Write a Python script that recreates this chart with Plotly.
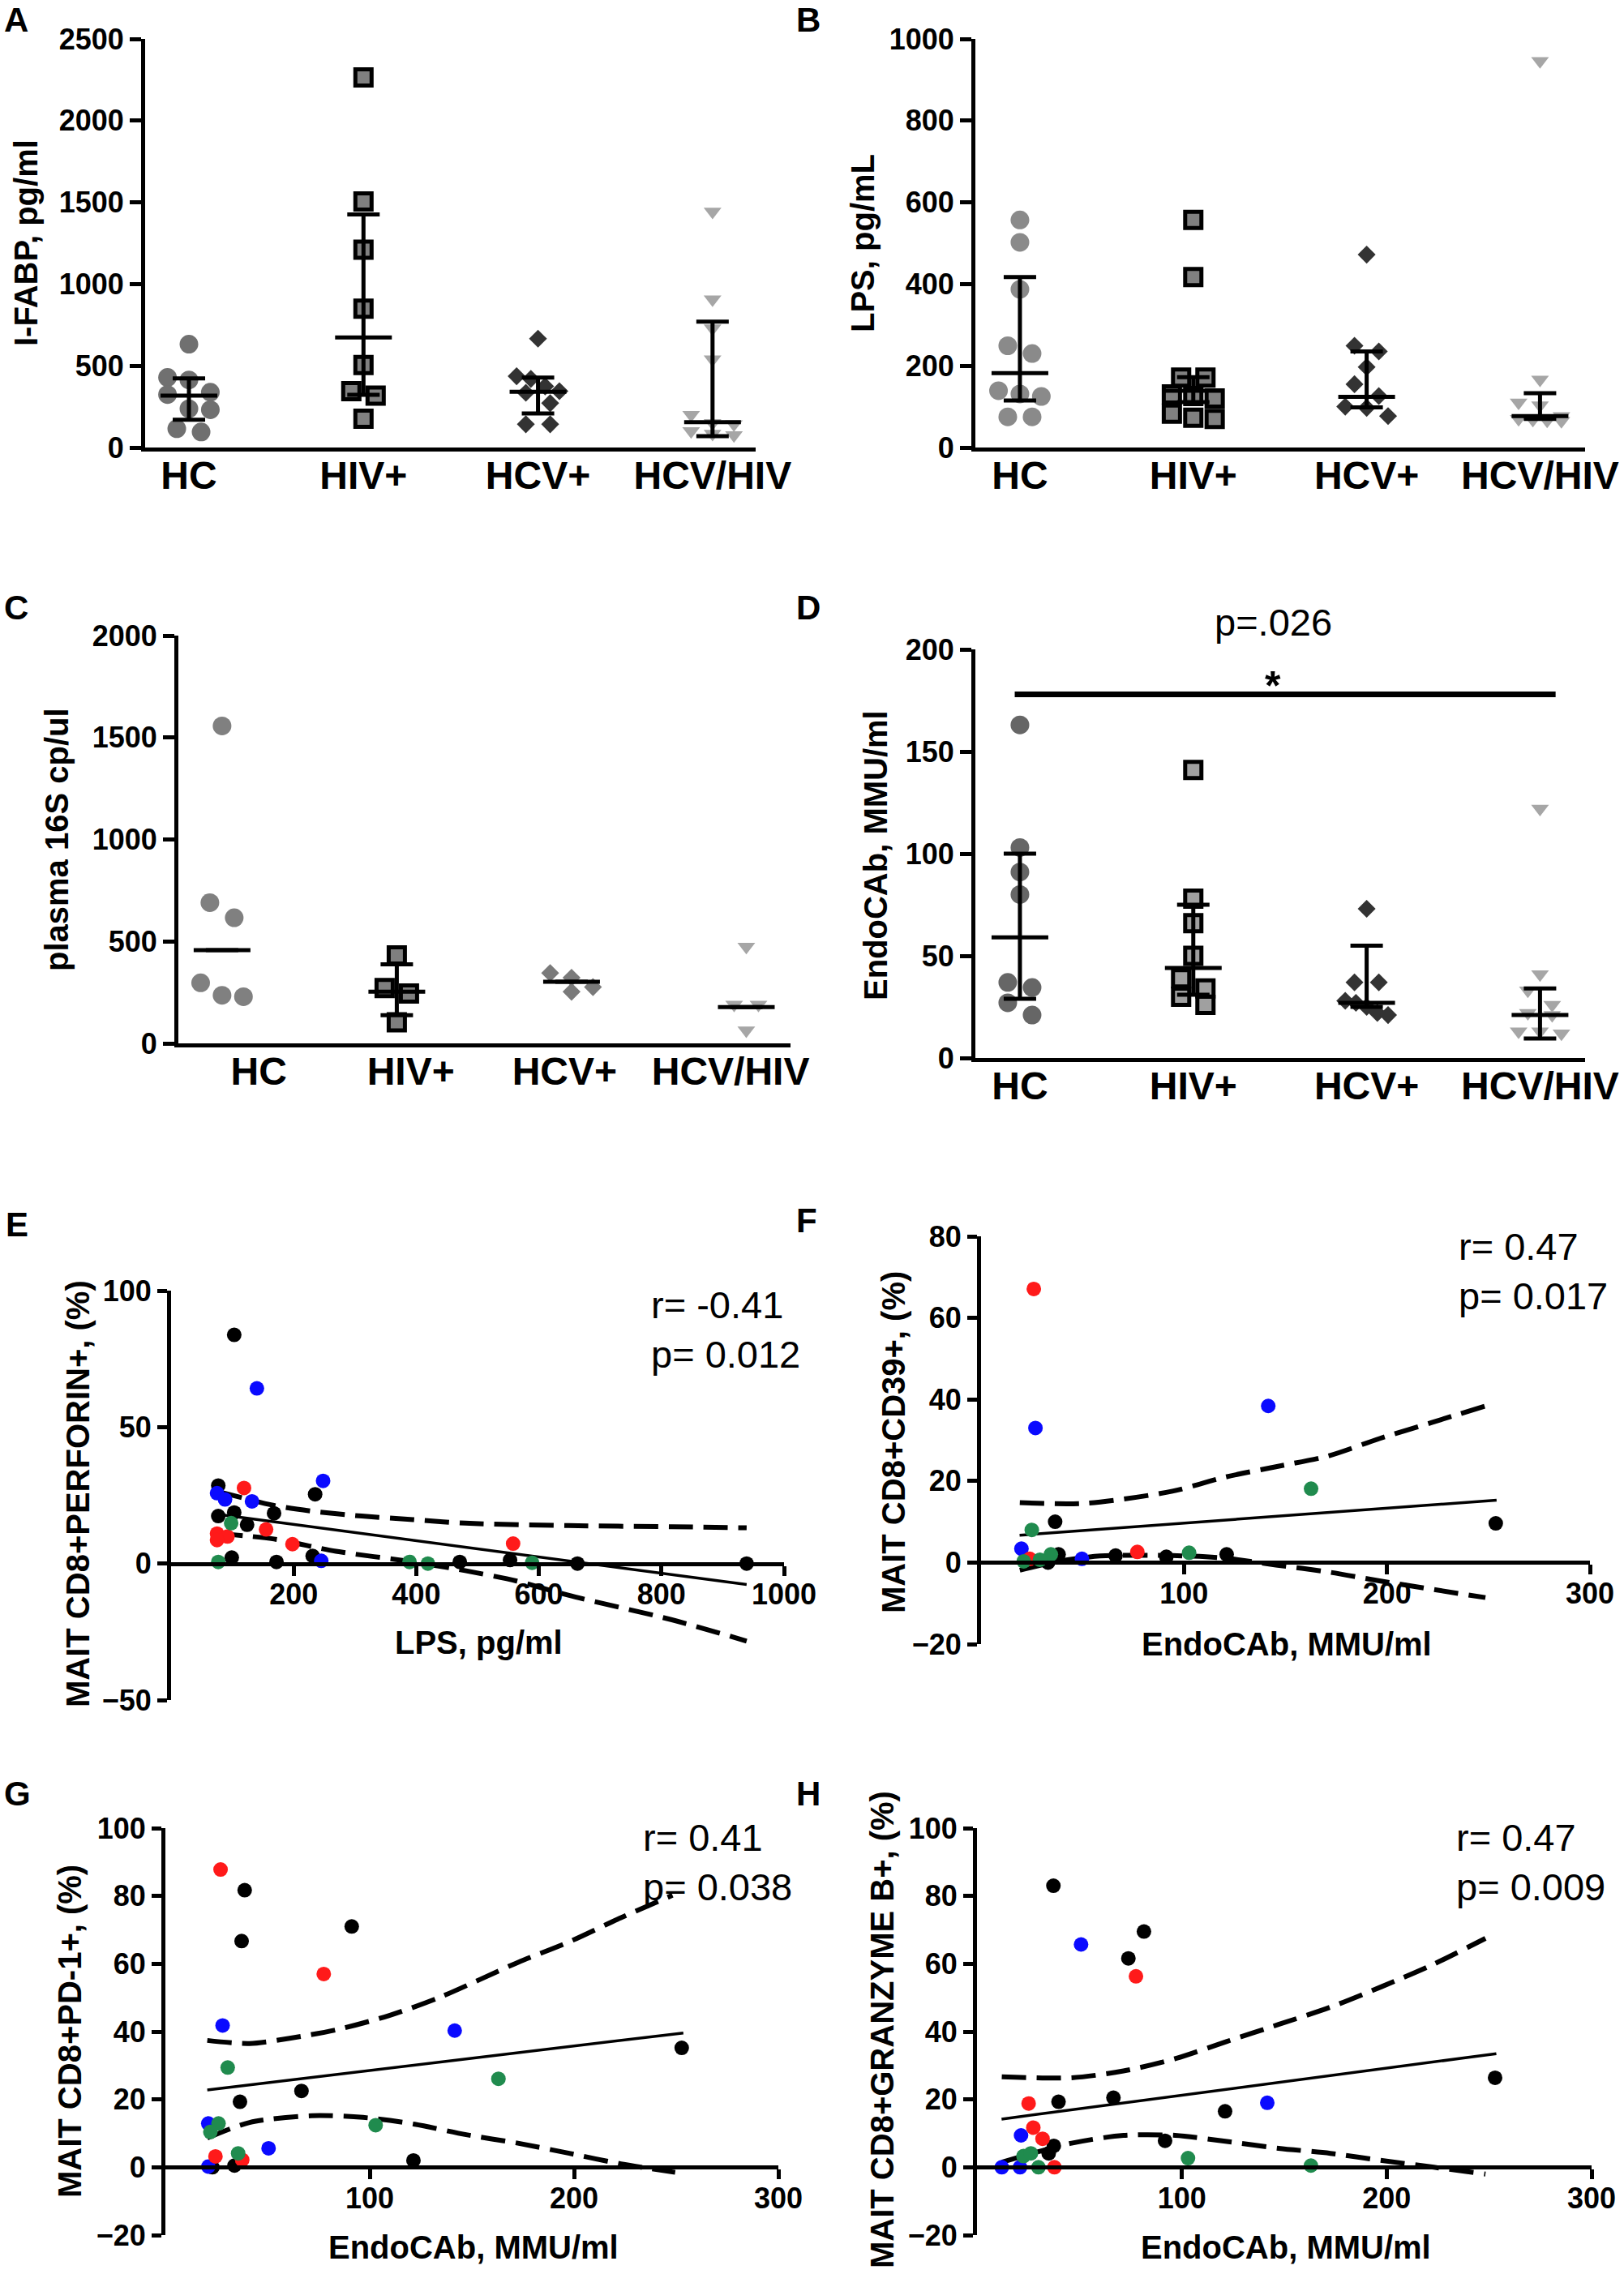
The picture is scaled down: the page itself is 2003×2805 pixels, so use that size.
import numpy as np
import plotly.graph_objects as go

W, H = 2003, 2805

groups = ["HC", "HIV+", "HCV+", "HCV/HIV"]

# ---- panel A: I-FABP, pg/ml
a_hc = [632, 429, 413, 338, 324, 237, 231, 115, 95]
a_hiv = [2265, 1505, 1210, 850, 505, 345, 318, 176]
a_hcv = [666, 436, 420, 374, 345, 335, 271, 142, 142]
a_coi = [1443, 906, 729, 539, 200, 150, 142, 101, 84, 76]
a_med = [318, 673, 341, 155]
a_lo = [170, 322, 208, 69]
a_hi = [423, 1426, 428, 770]

# ---- panel B: LPS, pg/mL
b_hc = [557, 502, 387, 249, 230, 139, 131, 125, 75, 75]
b_hiv = [557, 417, 171, 171, 130, 126, 120, 83, 73, 70]
b_hcv = [472, 249, 235, 197, 155, 126, 100, 97, 77]
b_coi = [946, 166, 110, 103, 77, 70, 68, 66, 65]
b_med = [182, 139, 124, 77]
b_lo = [115, 111, 98, 70]
b_hi = [417, 172, 235, 133]

# ---- panel C: plasma 16S cp/ul
c_hc = [1557, 690, 616, 297, 236, 229]
c_hiv = [431, 271, 245, 103]
c_hcv = [345, 322, 276, 253]
c_coi = [474, 190, 190, 64]
c_med = [457, 253, 302, 178]
c_lo = [457, 138, 302, 178]
c_hi = [457, 388, 302, 178]

# ---- panel D: EndoCAb, MMU/ml
d_hc = [163, 103, 91, 80, 37, 34.5, 27, 21]
d_hiv = [141, 78, 66, 50, 39, 34, 30, 26]
d_hcv = [73, 37, 37, 28, 27, 25, 22, 21]
d_coi = [122, 41, 33, 26, 22, 21, 13, 13, 12]
d_med = [59, 44, 27, 21]
d_lo = [29, 31, 25, 9.5]
d_hi = [100, 75, 55, 34]

# ---- panel E: perforin vs LPS
e_black_x = [103, 77, 235, 77, 103, 168, 124, 99, 172, 231, 471, 553, 663, 939]
e_black_y = [83.8, 28.6, 25.4, 17.4, 18.7, 18.4, 14.2, 2.2, 0.6, 2.8, 0.6, 1.3, 0, 0]
e_blue_x = [140, 248, 75, 88, 132, 245]
e_blue_y = [64.2, 30.3, 25.8, 23.5, 22.8, 1.0]
e_red_x = [119, 75, 92, 155, 198, 558, 75]
e_red_y = [27.7, 11, 9.9, 12.5, 7.1, 7.3, 8.6]
e_green_x = [98, 77, 389, 419, 589]
e_green_y = [14.8, 0.6, 0.6, 0, 0.3]
e_fit_x = [77, 939]
e_fit_y = [18, -7.7]
e_up_x = [76.7, 167.8, 226.8, 311, 395, 479.8, 648, 817, 939]
e_up_y = [26.4, 21.3, 19.3, 17.4, 16.1, 14.8, 13.9, 13.5, 13.1]
e_lo_x = [76.7, 167.8, 269, 395, 479.8, 564, 648, 817, 939]
e_lo_y = [11.0, 9.0, 4.5, 0.6, -2.6, -6.4, -11.6, -20.6, -28.4]

# ---- panel F: CD39 vs EndoCAb
f_black_x = [36.5, 253.6, 38.2, 66.3, 91.3, 121, 33]
f_black_y = [10, 9.6, 2.0, 1.7, 1.4, 2.0, 0]
f_blue_x = [26.8, 141.5, 19.9, 49.7]
f_blue_y = [33.0, 38.4, 3.4, 0.9]
f_red_x = [26, 77, 24]
f_red_y = [67.1, 2.6, 0.9]
f_green_x = [25, 162.6, 34.4, 21, 29, 102.5]
f_green_y = [8.0, 18.1, 2.0, 0.3, 0.7, 2.4]
f_fit_x = [19, 254]
f_fit_y = [6.7, 15.3]
f_up_x = [19.1, 51, 94.3, 119.8, 145.3, 170.8, 196.3, 221.8, 248.5]
f_up_y = [14.7, 14.5, 17.5, 20.9, 23.5, 26.1, 30.4, 34.3, 38.4]
f_lo_x = [19.1, 38.2, 58.6, 94.3, 119.8, 145.3, 170.8, 196.3, 248.5]
f_lo_y = [-1.9, 0.3, 1.6, 1.7, 1.1, -0.6, -2.3, -4.5, -8.6]

# ---- panel G: PD-1 vs EndoCAb
g_black_x = [38.8, 37.3, 91.2, 252.7, 66.6, 36.5, 121.4, 33.8, 23]
g_black_y = [81.7, 66.7, 71.0, 35.2, 22.5, 19.3, 2.0, 0.5, 0]
g_blue_x = [28, 141.6, 21, 50.5, 21]
g_blue_y = [41.8, 40.3, 12.9, 5.6, 0.2]
g_red_x = [27, 77.5, 24.5, 37.6]
g_red_y = [87.8, 57.0, 3.2, 2.2]
g_green_x = [30.5, 163, 26, 22, 102.9, 35.6]
g_green_y = [29.4, 26.1, 12.9, 10.4, 12.4, 4.1]
g_fit_x = [20.5, 253.5]
g_fit_y = [22.8, 39.6]
g_up_x = [20.5, 41.2, 61.4, 84.1, 109.3, 134.6, 172.5, 197.7, 223, 248.2]
g_up_y = [37.4, 36.5, 38.1, 40.6, 44.7, 50.2, 60.4, 66.5, 73.6, 80.2]
g_lo_x = [20.5, 41.2, 71.5, 96.7, 122, 147.2, 172.5, 197.7, 223, 249.5]
g_lo_y = [8.6, 13.2, 15.2, 14.7, 12.7, 9.6, 7.1, 4.1, 1.0, -1.5]

# ---- panel H: granzyme B vs EndoCAb
h_black_x = [37.3, 81.5, 73.9, 39.8, 66.6, 121.1, 252.9, 91.8, 35, 37.5]
h_black_y = [83.0, 69.5, 61.6, 19.3, 20.5, 16.5, 26.4, 7.8, 4.1, 6.3]
h_blue_x = [50.8, 141.7, 21.5, 12.1, 21]
h_blue_y = [65.7, 19.0, 9.4, 0, 0]
h_red_x = [77.6, 25.2, 27.5, 32, 37.8]
h_red_y = [56.3, 18.8, 11.7, 8.4, 0]
h_green_x = [22.7, 26.3, 30, 103, 163]
h_green_y = [3.3, 4.1, 0, 2.7, 0.5]
h_fit_x = [12, 253.5]
h_fit_y = [14.2, 33.5]
h_up_x = [12.1, 46.2, 71.5, 96.7, 122, 147.2, 172.5, 197.7, 223, 248.2]
h_up_y = [26.7, 26.4, 28.4, 32, 37.1, 42.1, 47.2, 53.3, 59.9, 67.5]
h_lo_x = [12.1, 46.2, 71.5, 96.7, 122, 147.2, 172.5, 197.7, 223, 248.2]
h_lo_y = [1.5, 7.1, 9.4, 9.4, 7.6, 5.6, 4.1, 2.0, 0, -2.0]

stat_text = ["r= -0.41<br>p= 0.012", "r= 0.47<br>p= 0.017",
             "r= 0.41<br>p= 0.038", "r= 0.47<br>p= 0.009"]

FAM = "Liberation Sans, Arial, sans-serif"
BOLD = dict(family=FAM, color="black", weight="bold")


def fx(p):
    return p / W


def fy(p):
    return 1 - p / H


def axkey(k, a):
    return f"{a}axis" if k == 1 else f"{a}axis{k}"


def aref(k, a):
    return a if k == 1 else f"{a}{k}"


def swarm(vals, ppy, ppx, diam):
    # group close values into rows and centre each row on the column
    order = sorted(range(len(vals)), key=lambda i: -vals[i])
    rows = []
    for i in order:
        if rows and (vals[rows[-1][0]] - vals[i]) * ppy < diam * 0.8:
            rows[-1].append(i)
        else:
            rows.append([i])
    offs = [0.0] * len(vals)
    for row in rows:
        m = len(row)
        if m == 1:
            continue
        sp = min(diam * 1.25, diam * 2.2 / (m - 1))
        for j, i in enumerate(row):
            offs[i] = (j - (m - 1) / 2) * sp / ppx
    return offs


fig = go.Figure()
layout = {}
annots = []
shapes = []

sym = ["circle", "square", "diamond", "triangle-down"]
msize = [23, 20, 17, 19]
mline = [0, 5, 0, 0]

cat_panels = [
    (1, [a_hc, a_hiv, a_hcv, a_coi], a_med, a_lo, a_hi,
     ["#707070", "#808080", "#333333", "#a6a6a6"], (179, 932), (48, 552), (0, 2500), 500,
     (-0.251, 3.247), [0, 1, 2, 3]),
    (2, [b_hc, b_hiv, b_hcv, b_coi], b_med, b_lo, b_hi,
     ["#8a8a8a", "#808080", "#333333", "#a6a6a6"], (1203, 1955), (48, 552), (0, 1000), 200,
     (-0.257, 3.26), [0, 1, 2, 3]),
    (3, [c_hc, c_hiv, c_hcv, c_coi], c_med, c_lo, c_hi,
     ["#808080", "#7f7f7f", "#7a7a7a", "#a6a6a6"], (220, 975), (784, 1287), (0, 2000), 500,
     (-0.25, 3.253), [0.21, 1.08, 1.96, 2.91]),
    (4, [d_hc, d_hiv, d_hcv, d_coi], d_med, d_lo, d_hi,
     ["#666666", "#a0a0a0", "#333333", "#a6a6a6"], (1203, 1955), (801, 1305), (0, 200), 50,
     (-0.257, 3.26), [0, 1, 2, 3]),
]

for k, data, med, lo, hi, cols, xpx, ypx, yr, dt, xr, tv in cat_panels:
    ppx = (xpx[1] - xpx[0]) / (xr[1] - xr[0])
    ppy = (ypx[1] - ypx[0]) / (yr[1] - yr[0])
    for g, vals in enumerate(data):
        offs = swarm(vals, ppy, ppx, 24)
        fig.add_trace(go.Scatter(
            x=[g + o for o in offs], y=vals, mode="markers",
            xaxis=aref(k, "x"), yaxis=aref(k, "y"), showlegend=False,
            marker=dict(symbol=sym[g], size=msize[g], color=cols[g],
                        line=dict(width=mline[g], color="black")),
        ))
    fig.add_trace(go.Scatter(
        x=list(range(4)), y=med, mode="markers", showlegend=False,
        xaxis=aref(k, "x"), yaxis=aref(k, "y"),
        marker=dict(size=2, color="rgba(0,0,0,0)"),
        error_x=dict(type="data", array=[35 / ppx] * 4, width=0, thickness=5, color="black"),
        error_y=dict(type="data", symmetric=False,
                     array=[h - m for h, m in zip(hi, med)],
                     arrayminus=[m - l for m, l in zip(med, lo)],
                     width=20, thickness=5, color="black"),
    ))
    layout[axkey(k, "x")] = dict(
        domain=[fx(xpx[0]), fx(xpx[1])], range=list(xr), anchor=aref(k, "y"),
        showline=True, linewidth=5, linecolor="black", showgrid=False, zeroline=False,
        tickvals=tv, ticktext=groups, ticks="", ticklabelstandoff=-12, automargin=False,
        tickfont=dict(size=48, **BOLD),
    )
    layout[axkey(k, "y")] = dict(
        domain=[fy(ypx[1]), fy(ypx[0])], range=list(yr), anchor=aref(k, "x"),
        showline=True, linewidth=5, linecolor="black", showgrid=False, zeroline=False,
        tickvals=list(np.arange(yr[0], yr[1] + dt / 2, dt)), ticks="outside",
        ticklen=14, tickwidth=5, tickcolor="black", automargin=False,
        tickfont=dict(size=36, **BOLD),
    )

# significance bar in D
shapes.append(dict(type="line", xref="x4", yref="y4", x0=-0.03, x1=3.09, y0=178, y1=178,
                   line=dict(color="black", width=7)))
annots.append(dict(text="*", xref="paper", yref="paper", x=fx(1570), y=fy(846),
                   showarrow=False, xanchor="center", yanchor="middle",
                   font=dict(size=50, **BOLD)))
annots.append(dict(text="p=.026", xref="paper", yref="paper", x=fx(1570), y=fy(767),
                   showarrow=False, xanchor="center", yanchor="middle",
                   font=dict(family=FAM, size=47, color="black")))

colors = {"black": "#000000", "blue": "#0a0aff", "red": "#ff1a1a", "green": "#208b4e"}
sc_panels = [
    (5, [(e_black_x, e_black_y, "black"), (e_blue_x, e_blue_y, "blue"),
         (e_red_x, e_red_y, "red"), (e_green_x, e_green_y, "green")],
     (e_fit_x, e_fit_y), (e_up_x, e_up_y), (e_lo_x, e_lo_y),
     (211, 967), (1592, 2097), (0, 1000), (-50, 100), [200, 400, 600, 800, 1000],
     [-50, 0, 50, 100], (801, 1640)),
    (6, [(f_black_x, f_black_y, "black"), (f_blue_x, f_blue_y, "blue"),
         (f_red_x, f_red_y, "red"), (f_green_x, f_green_y, "green")],
     (f_fit_x, f_fit_y), (f_up_x, f_up_y), (f_lo_x, f_lo_y),
     (1210, 1961), (1525, 2028), (0, 300), (-20, 80), [100, 200, 300],
     [-20, 0, 20, 40, 60, 80], (1797, 1568)),
    (7, [(g_black_x, g_black_y, "black"), (g_blue_x, g_blue_y, "blue"),
         (g_red_x, g_red_y, "red"), (g_green_x, g_green_y, "green")],
     (g_fit_x, g_fit_y), (g_up_x, g_up_y), (g_lo_x, g_lo_y),
     (204, 960), (2255, 2757), (0, 300), (-20, 100), [100, 200, 300],
     [-20, 0, 20, 40, 60, 80, 100], (791, 2297)),
    (8, [(h_black_x, h_black_y, "black"), (h_blue_x, h_blue_y, "blue"),
         (h_red_x, h_red_y, "red"), (h_green_x, h_green_y, "green")],
     (h_fit_x, h_fit_y), (h_up_x, h_up_y), (h_lo_x, h_lo_y),
     (1205, 1963), (2255, 2757), (0, 300), (-20, 100), [100, 200, 300],
     [-20, 0, 20, 40, 60, 80, 100], (1794, 2297)),
]

for i, (k, sets, fit, up, low, xpx, ypx, xr, yr, xt, yt, tpos) in enumerate(sc_panels):
    for (lx, ly), dash, wd in [(up, "30px,13px", 6), (low, "30px,13px", 6),
                               (fit, "solid", 3.5)]:
        fig.add_trace(go.Scatter(x=lx, y=ly, mode="lines", showlegend=False,
                                 xaxis=aref(k, "x"), yaxis=aref(k, "y"),
                                 line=dict(color="black", width=wd, dash=dash,
                                           shape="spline", smoothing=0.8)))
    for sx, sy, c in sets:
        fig.add_trace(go.Scatter(x=sx, y=sy, mode="markers", showlegend=False,
                                 xaxis=aref(k, "x"), yaxis=aref(k, "y"),
                                 marker=dict(size=18, color=colors[c])))
    zero_px = ypx[0] + (yr[1] - 0) / (yr[1] - yr[0]) * (ypx[1] - ypx[0])
    layout[axkey(k, "x")] = dict(
        domain=[fx(xpx[0]), fx(xpx[1])], range=list(xr), anchor="free", position=fy(zero_px),
        showline=True, linewidth=5, linecolor="black", showgrid=False, zeroline=False,
        tickvals=xt, ticks="outside", ticklen=12, tickwidth=5, tickcolor="black",
        ticklabelstandoff=-8, automargin=False, tickfont=dict(size=36, **BOLD),
    )
    layout[axkey(k, "y")] = dict(
        domain=[fy(ypx[1]), fy(ypx[0])], range=list(yr), anchor=aref(k, "x"),
        showline=True, linewidth=5, linecolor="black", showgrid=False, zeroline=False,
        tickvals=yt, ticks="outside", ticklen=12, tickwidth=5, tickcolor="black",
        automargin=False, tickfont=dict(size=36, **BOLD),
    )
    annots.append(dict(text=stat_text[i], xref="paper", yref="paper",
                       x=fx(tpos[0]), y=fy(tpos[1]), xanchor="left", yanchor="middle",
                       align="left", showarrow=False,
                       font=dict(family=FAM, size=47, color="black")))

# panel letters
for lab, x, y in [("A", 3, 25), ("B", 980, 25), ("C", 3, 750), ("D", 980, 750),
                  ("E", 5, 1510), ("F", 980, 1505), ("G", 3, 2212), ("H", 980, 2212)]:
    annots.append(dict(text=lab, xref="paper", yref="paper", x=fx(x), y=fy(y),
                       xanchor="left", yanchor="middle", showarrow=False,
                       font=dict(size=42, **BOLD)))

# axis titles
ytitles = [("I-FABP, pg/ml", 32, 300), ("LPS, pg/mL", 1064, 300),
           ("plasma 16S cp/ul", 70, 1036), ("EndoCAb, MMU/ml", 1080, 1055),
           ("MAIT CD8+PERFORIN+, (%)", 96, 1843), ("MAIT CD8+CD39+, (%)", 1102, 1779),
           ("MAIT CD8+PD-1+, (%)", 86, 2506), ("MAIT CD8+GRANZYME B+, (%)", 1088, 2504)]
for txt, x, y in ytitles:
    annots.append(dict(text=txt, xref="paper", yref="paper", x=fx(x), y=fy(y),
                       textangle=-90, showarrow=False, xanchor="center", yanchor="middle",
                       font=dict(size=40, **BOLD)))

xtitles = [("LPS, pg/ml", 590, 2026), ("EndoCAb, MMU/ml", 1587, 2028),
           ("EndoCAb, MMU/ml", 584, 2772), ("EndoCAb, MMU/ml", 1586, 2772)]
for txt, x, y in xtitles:
    annots.append(dict(text=txt, xref="paper", yref="paper", x=fx(x), y=fy(y),
                       showarrow=False, xanchor="center", yanchor="middle",
                       font=dict(size=40, **BOLD)))

fig.update_layout(
    width=W, height=H, margin=dict(l=0, r=0, t=0, b=0, autoexpand=False),
    paper_bgcolor="white", plot_bgcolor="white",
    annotations=annots, shapes=shapes, **layout,
)

# drop the page margin so the figure sits flush in the window
fig.write_html("out.html", config={"displayModeBar": False, "staticPlot": True},
               post_script=(
                   "document.body.style.margin='0px';"
                   "document.body.style.overflow='hidden';"
                   "document.documentElement.style.overflow='hidden';"
               ))
